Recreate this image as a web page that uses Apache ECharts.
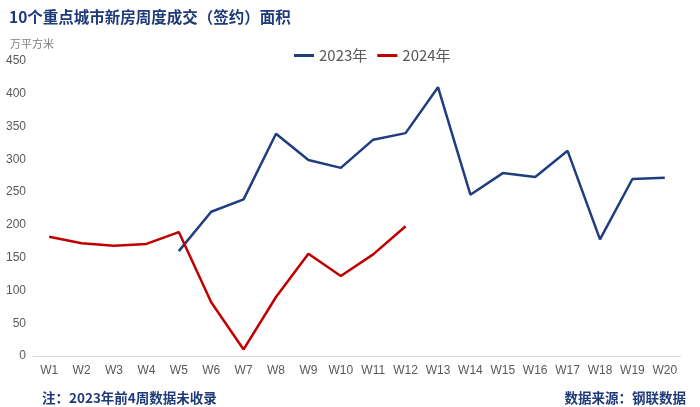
<!DOCTYPE html>
<html><head><meta charset="utf-8">
<script src="https://cdn.jsdelivr.net/npm/echarts@6/dist/echarts.min.js"></script>
<style>html,body{margin:0;padding:0;background:#fff}#c{width:700px;height:407px}</style>
</head><body><div id="c"></div>
<script>
var categories = ['W1','W2','W3','W4','W5','W6','W7','W8','W9','W10','W11','W12','W13','W14','W15','W16','W17','W18','W19','W20'];
var values2023 = [null,null,null,null,160,220,239,339,299,287,330,340,410,246,279,273,313,178,270,272];
var values2024 = [182,172,168,171,189,82,10,90,156,122,155,198];
var yTicks = {min:0, max:450, interval:50};
var chart = echarts.init(document.getElementById('c'));
chart.setOption({
  backgroundColor:'#fff',
  animation:false,
  title:[
    {text:'10个重点城市新房周度成交（签约）面积', left:4, top:4, textStyle:{fontFamily:'Noto Sans CJK SC', fontWeight:'bold', fontSize:15.5, color:'#1F3A78'}},
    {text:'万平方米', left:5, top:33, textStyle:{fontFamily:'Noto Sans CJK SC', fontWeight:'normal', fontSize:11, color:'#7F7F7F'}},
    {text:'注：2023年前4周数据未收录', left:37, top:386, textStyle:{fontFamily:'Noto Sans CJK SC', fontWeight:'bold', fontSize:13.5, color:'#1F3A78'}},
    {text:'数据来源：钢联数据', right:9, top:386, textStyle:{fontFamily:'Noto Sans CJK SC', fontWeight:'bold', fontSize:13.5, color:'#1F3A78'}}
  ],
  legend:{top:43, left:289, itemWidth:20, itemHeight:3, itemGap:10, icon:'rect',
    textStyle:{fontFamily:'Noto Sans CJK SC', fontSize:15, color:'#595959'},
    data:['2023年','2024年']},
  grid:{left:33, right:19, top:61, bottom:51},
  xAxis:{type:'category', data:categories, boundaryGap:true,
    axisLine:{lineStyle:{color:'#D9D9D9', width:1}}, axisTick:{show:false},
    axisLabel:{color:'#595959', fontSize:12, fontFamily:'Liberation Sans', margin:9}},
  yAxis:{type:'value', min:yTicks.min, max:yTicks.max, interval:yTicks.interval,
    splitLine:{show:false}, axisLine:{show:false}, axisTick:{show:false},
    axisLabel:{color:'#595959', fontSize:12, fontFamily:'Liberation Sans', margin:7}},
  series:[
    {name:'2023年', type:'line', data:values2023, symbol:'none', connectNulls:false,
      lineStyle:{color:'#1F3D80', width:2.5}, itemStyle:{color:'#1F3D80'}},
    {name:'2024年', type:'line', data:values2024, symbol:'none',
      lineStyle:{color:'#C00000', width:2.5}, itemStyle:{color:'#C00000'}}
  ]
});
</script></body></html>
